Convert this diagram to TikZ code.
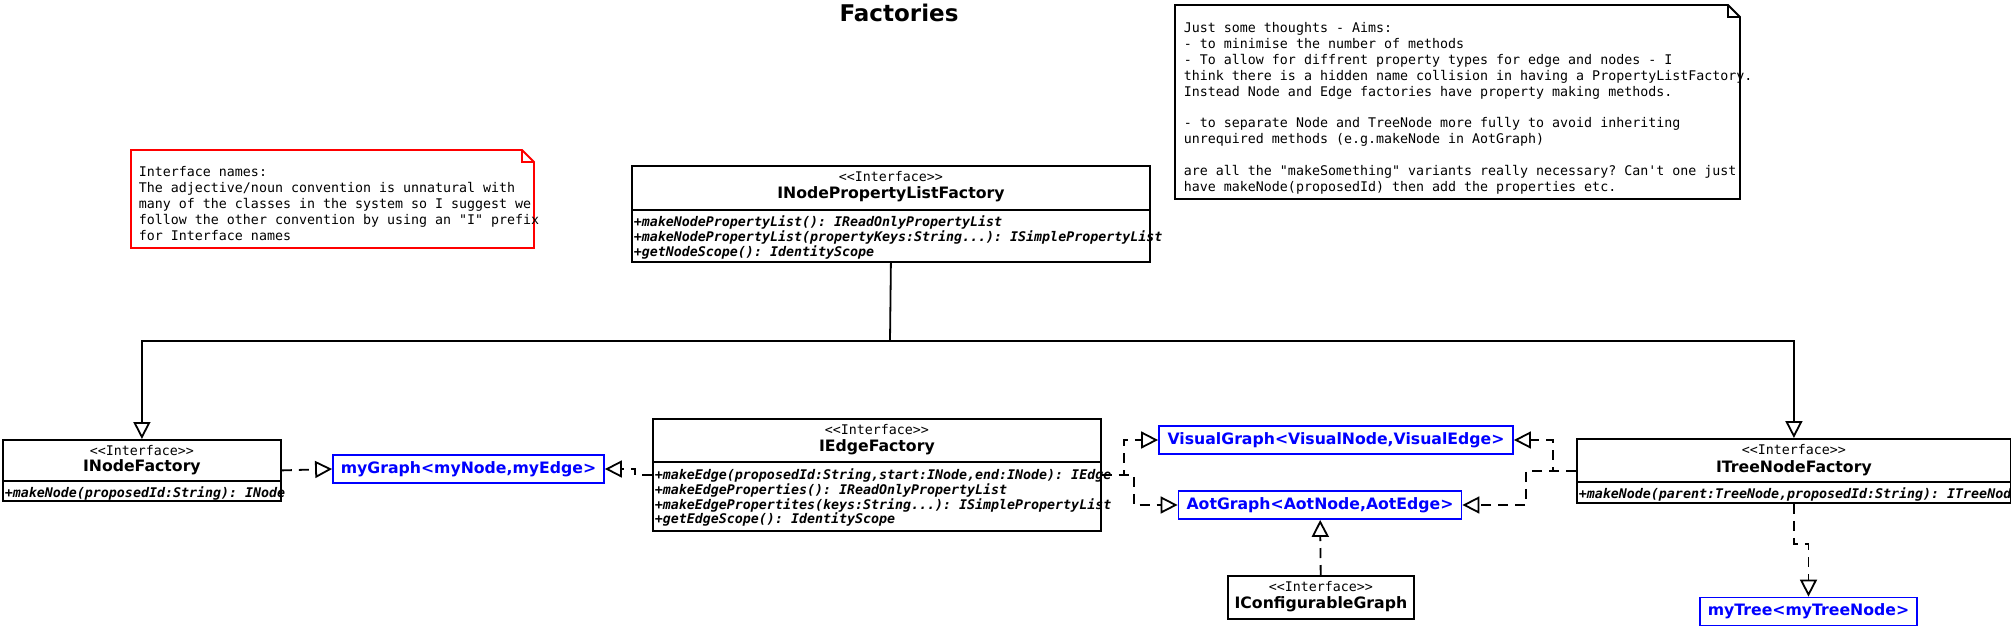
\documentclass[tikz,border=0pt]{standalone}
\usepackage{fontspec}
\setmainfont{DejaVu Sans}
\setmonofont{DejaVu Sans Mono}
\usetikzlibrary{arrows.meta}

\begin{document}
\begin{tikzpicture}[%
  x=1pt, y=-1pt, line width=1.8pt,
  cls/.style={draw, anchor=north west, inner sep=0pt},
  stereo/.style={font=\fontsize{13.3}{15}\ttfamily},
  cname/.style={font=\fontsize{15.7}{18}\bfseries},
  ops/.style={anchor=north west, align=left, inner sep=0pt,
    font=\fontsize{13.3}{14.7}\ttfamily\bfseries\itshape},
  notetext/.style={anchor=north west, align=left, inner sep=0pt,
    font=\fontsize{13.3}{15.9}\ttfamily},
  impl/.style={draw=blue, text=blue, inner sep=0pt, minimum height=28pt,
    font=\fontsize{15.7}{18}\bfseries},
  gen/.style={-{Triangle[open,length=17pt,width=17pt]}},
  real/.style={gen, dash pattern=on 10pt off 7pt}]
\useasboundingbox (0,0) rectangle (2011,626);

\node[font=\fontsize{23}{26}\bfseries] (title) at (899,13) {Factories};

\draw[red] (131,150) -- (522,150) -- (534,162) -- (534,248) -- (131,248) -- cycle;
\draw[red] (522,150) -- (522,162) -- (534,162);
\node[notetext] (rednote) at (138,165.4) {Interface names:\\
The adjective/noun convention is unnatural with\\
many of the classes in the system so I suggest we\\
follow the other convention by using an "I" prefix\\
for Interface names};

\draw (1175,5) -- (1728,5) -- (1740,17) -- (1740,199) -- (1175,199) -- cycle;
\draw (1728,5) -- (1728,17) -- (1740,17);
\node[notetext] (bignote) at (1183,21.4) {Just some thoughts - Aims:\\
- to minimise the number of methods\\
- To allow for diffrent property types for edge and nodes - I\\
think there is a hidden name collision in having a PropertyListFactory.\\
Instead Node and Edge factories have property making methods.\\[15.9pt]
- to separate Node and TreeNode more fully to avoid inheriting\\
unrequired methods (e.g.makeNode in AotGraph)\\[15.9pt]
are all the "makeSomething" variants really necessary? Can't one just\\
have makeNode(proposedId) then add the properties etc.};

\node[cls, minimum width=518pt, minimum height=96pt] (inplf) at (631,165) {};
\draw ([yshift=-45pt]inplf.north west) -- ([yshift=-45pt]inplf.north east);
\node[stereo] at ([yshift=-12pt]inplf.north) {<<Interface>>};
\node[cname] at ([yshift=-29pt]inplf.north) {INodePropertyListFactory};
\node[ops] at ([shift={(2pt,-50pt)}]inplf.north west) {+makeNodePropertyList(): IReadOnlyPropertyList\\
+makeNodePropertyList(propertyKeys:String...): ISimplePropertyList\\
+getNodeScope(): IdentityScope};

\node[cls, minimum width=278pt, minimum height=61pt] (inf) at (2,439) {};
\draw ([yshift=-42pt]inf.north west) -- ([yshift=-42pt]inf.north east);
\node[stereo] at ([yshift=-12pt]inf.north) {<<Interface>>};
\node[cname] at ([yshift=-28pt]inf.north) {INodeFactory};
\node[ops] at ([shift={(2pt,-46.4pt)}]inf.north west) {+makeNode(proposedId:String): INode};

\node[cls, minimum width=448pt, minimum height=112pt] (ief) at (652,418) {};
\draw ([yshift=-44pt]ief.north west) -- ([yshift=-44pt]ief.north east);
\node[stereo] at ([yshift=-12pt]ief.north) {<<Interface>>};
\node[cname] at ([yshift=-29pt]ief.north) {IEdgeFactory};
\node[ops] at ([shift={(2pt,-50pt)}]ief.north west) {+makeEdge(proposedId:String,start:INode,end:INode): IEdge\\
+makeEdgeProperties(): IReadOnlyPropertyList\\
+makeEdgePropertites(keys:String...): ISimplePropertyList\\
+getEdgeScope(): IdentityScope};

\node[cls, minimum width=434pt, minimum height=64pt] (itnf) at (1576,438) {};
\draw ([yshift=-44pt]itnf.north west) -- ([yshift=-44pt]itnf.north east);
\node[stereo] at ([yshift=-12pt]itnf.north) {<<Interface>>};
\node[cname] at ([yshift=-30pt]itnf.north) {ITreeNodeFactory};
\node[ops] at ([shift={(2pt,-48.4pt)}]itnf.north west) {+makeNode(parent:TreeNode,proposedId:String): ITreeNode};

\node[cls, minimum width=186pt, minimum height=43pt] (icg) at (1227,575) {};
\node[stereo] at ([yshift=-12pt]icg.north) {<<Interface>>};
\node[cname] at ([yshift=-29pt]icg.north) {IConfigurableGraph};

\node[impl, minimum width=271pt] (mg) at (468.5,469) {myGraph<myNode,myEdge>};
\node[impl, minimum width=354pt] (vg) at (1336,440) {VisualGraph<VisualNode,VisualEdge>};
\node[impl, minimum width=283pt] (ag) at (1320,505) {AotGraph<AotNode,AotEdge>};
\node[impl, minimum width=217pt] (mt) at (1808.5,611.5) {myTree<myTreeNode>};

\coordinate (fork) at (890,341);
\draw (inplf.south) -- (fork);
\draw[gen] (fork) -| (inf.north);
\draw[gen] (fork) -| (itnf.north);

\draw[real] (inf.east) -- (mg.west);
\draw[real] (ief.west) -- ++(-17pt,0) |- (mg.east);
\draw[real] (ief.east) -- ++(22pt,0) |- (vg.west);
\draw[real] (ief.east) -- ++(32pt,0) |- (ag.west);
\draw[real] (itnf.west) -- ++(-23pt,0) |- (vg.east);
\draw[real] (itnf.west) -- ++(-50pt,0) |- (ag.east);
\draw[real] (icg) -- (ag);
\draw[real] (itnf.south) -- ++(0,-40pt) -| (mt.north);
\end{tikzpicture}
\end{document}
